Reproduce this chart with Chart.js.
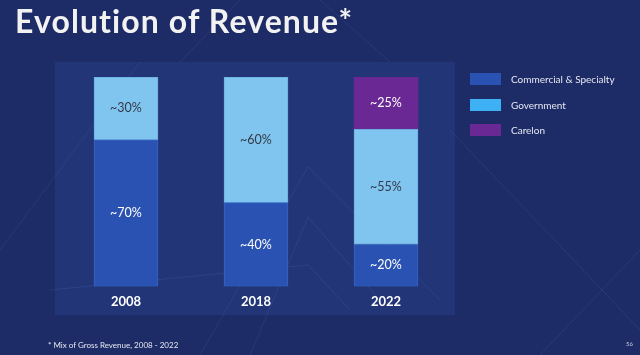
<!DOCTYPE html>
<html>
<head>
<meta charset="utf-8">
<script src="https://cdn.jsdelivr.net/npm/chart.js@4.4.1/dist/chart.umd.min.js"></script>
<style>
  html, body { margin: 0; padding: 0; background: #1d2b66; }
  body { width: 640px; height: 355px; position: relative; overflow: hidden; font-family: "Lato", "Open Sans", sans-serif; }
  #wrap { position: absolute; left: 0; top: 0; width: 640px; height: 355px; }
  #title { position: absolute; left: 15px; top: 1px; color: #f2f2f2; font: 700 32px "Lato", sans-serif; letter-spacing: 1.1px; }
  #foot { position: absolute; left: 48px; top: 340px; color: #e6e8f0; font: 400 8px "Lato", sans-serif; }
  #page { position: absolute; left: 626px; top: 340px; color: #c8cce0; font: 400 6px "Lato", sans-serif; }
  #legend { position: absolute; left: 470px; top: 73px; }
  .item { position: relative; height: 25.5px; }
  .sw { position: absolute; left: 0; top: 0; width: 31px; height: 12px; }
  .lab { position: absolute; left: 41px; top: -1px; color: #e6e8f2; font: 400 10px "Lato", sans-serif; line-height: 14px; white-space: nowrap; }
</style>
</head>
<body>
<div id="wrap"><canvas id="c" width="640" height="355"></canvas></div>
<div id="title">Evolution of Revenue*</div>
<div id="legend"></div>
<div id="foot">* Mix of Gross Revenue, 2008 - 2022</div>
<div id="page">56</div>
<script>
const years = ["2008", "2018", "2022"];
const seriesNames = ["Commercial & Specialty", "Government", "Carelon"];
const commercial = [70, 40, 20];
const government = [30, 60, 55];
const carelon = [0, 0, 25];
const valueLabels = [
  ["~70%", "~40%", "~20%"],
  ["~30%", "~60%", "~55%"],
  ["", "", "~25%"]
];

const barColors = ["#2a52b2", "#80c5ef", "#6a2895"];
const legendColors = ["#2a52b2", "#3db1f4", "#6a2895"];
const labelColors = ["#ffffff", "#333a48", "#ffffff"];

// legend
const lg = document.getElementById('legend');
seriesNames.forEach((n, i) => {
  const d = document.createElement('div'); d.className = 'item';
  d.innerHTML = '<div class="sw" style="background:' + legendColors[i] + '"></div><div class="lab">' + n.replace('&', '&amp;') + '</div>';
  lg.appendChild(d);
});

const bgPlugin = {
  id: 'bg',
  beforeDraw(chart) {
    const ctx = chart.ctx;
    ctx.save();
    ctx.fillStyle = '#1d2b66';
    ctx.fillRect(0, 0, 640, 355);
    ctx.strokeStyle = 'rgba(120,140,210,0.14)';
    ctx.lineWidth = 1;
    const lines = [
      [[200, 355], [308, 167], [440, 300]],
      [[250, 355], [308, 217], [380, 300]],
      [[50, 290], [308, 265], [350, 310]],
      [[0, 250], [140, 62]],
      [[240, 0], [180, 62]],
      [[320, 0], [390, 62]],
      [[450, 130], [640, 330]],
      [[540, 355], [640, 250]]
    ];
    ctx.fillStyle = '#213577';
    ctx.fillRect(55, 62, 400, 253);
    lines.forEach(l => {
      ctx.beginPath();
      ctx.moveTo(l[0][0], l[0][1]);
      for (let k = 1; k < l.length; k++) ctx.lineTo(l[k][0], l[k][1]);
      ctx.stroke();
    });
    ctx.restore();
  }
};

const labelPlugin = {
  id: 'vlabels',
  afterDatasetsDraw(chart) {
    const ctx = chart.ctx;
    ctx.save();
    ctx.font = '400 12.5px "Lato", sans-serif';
    ctx.textAlign = 'center';
    ctx.textBaseline = 'middle';
    chart.data.datasets.forEach((ds, di) => {
      const meta = chart.getDatasetMeta(di);
      meta.data.forEach((bar, i) => {
        const t = valueLabels[di][i];
        if (!t) return;
        const p = bar.getProps(['x', 'y', 'base'], true);
        ctx.fillStyle = labelColors[di];
        ctx.fillText(t, p.x, (p.y + p.base) / 2);
      });
    });
    ctx.restore();
  }
};

new Chart(document.getElementById('c'), {
  type: 'bar',
  data: {
    labels: years,
    datasets: [
      { label: seriesNames[0], data: commercial, backgroundColor: barColors[0], borderColor: '#3a63c4', borderWidth: 1, borderSkipped: false },
      { label: seriesNames[1], data: government, backgroundColor: barColors[1], borderColor: '#6aaee0', borderWidth: 1, borderSkipped: false },
      { label: seriesNames[2], data: carelon, backgroundColor: barColors[2], borderColor: '#6a2895', borderWidth: 0 }
    ]
  },
  options: {
    responsive: false,
    animation: false,
    devicePixelRatio: 1,
    layout: { padding: { left: 61, right: 189, top: 77, bottom: 37 } },
    plugins: { legend: { display: false }, tooltip: { enabled: false } },
    datasets: { bar: { barThickness: 64 } },
    scales: {
      x: {
        stacked: true,
        grid: { display: false, drawTicks: false },
        border: { display: false },
        ticks: { color: '#ffffff', font: { family: 'Lato', weight: 'bold', size: 13 }, padding: 8 }
      },
      y: {
        stacked: true,
        display: false,
        min: 0, max: 100
      }
    }
  },
  plugins: [bgPlugin, labelPlugin]
});
</script>
</body>
</html>
